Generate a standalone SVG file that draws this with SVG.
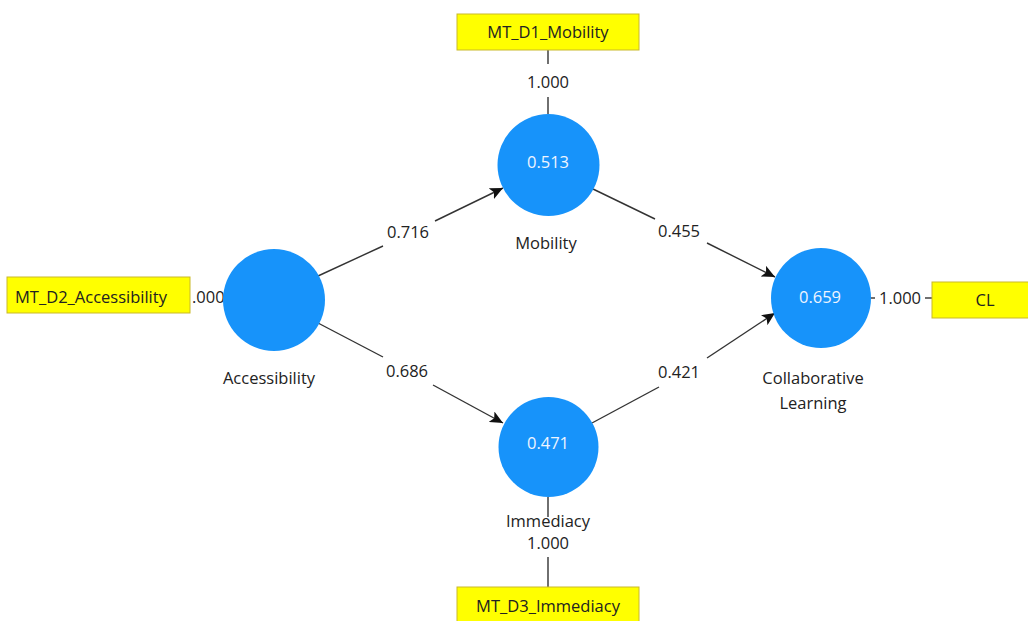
<svg xmlns="http://www.w3.org/2000/svg" width="1028" height="621" viewBox="0 0 1028 621">
<style>
text{font-family:"Open Sans","Noto Sans","Liberation Sans",sans-serif;font-size:16.5px;fill:#222}
.lbl{text-anchor:middle}
.val{text-anchor:middle;fill:#eef5ff}
.lv{fill:#1793fa}
.box{fill:#ffff00;stroke:#c9b92a;stroke-width:1}
.ln{stroke:#333;stroke-width:1.4;fill:none}
.arr{stroke:#333;stroke-width:1.4;fill:none;marker-end:url(#ah)}
</style>
<defs>
<marker id="ah" markerUnits="userSpaceOnUse" markerWidth="14" markerHeight="12" refX="13" refY="6" orient="auto">
<path d="M0,0 L13,6 L0,12 L3,6 z" fill="#111"/>
</marker>
</defs>
<rect width="1028" height="621" fill="#fff"/>
<g id="connectors">
<line class="ln" x1="548" y1="50" x2="548" y2="64"/>
<line class="ln" x1="548" y1="97" x2="548" y2="114"/>
<line class="ln" x1="548" y1="497" x2="548" y2="517"/>
<line class="ln" x1="548" y1="557" x2="548" y2="587"/>
<line class="ln" x1="871" y1="298" x2="875" y2="298"/>
<line class="ln" x1="925" y1="298" x2="932" y2="298"/>
<line class="ln" x1="318" y1="276" x2="383" y2="246"/>
<line class="arr" x1="435" y1="221" x2="503" y2="188"/>
<line class="ln" x1="318" y1="323" x2="383" y2="357"/>
<line class="arr" x1="433" y1="385" x2="503" y2="423"/>
<line class="ln" x1="593" y1="189" x2="655" y2="219"/>
<line class="arr" x1="707" y1="243" x2="775" y2="277"/>
<line class="ln" x1="592" y1="423" x2="659" y2="387"/>
<line class="arr" x1="707" y1="358" x2="775" y2="313"/>
<text class="lbl" x="548" y="88">1.000</text>
<text class="lbl" x="548" y="549">1.000</text>
<text class="lbl" x="900" y="304">1.000</text>
<text x="192" y="303">.000</text>
<text class="lbl" x="408" y="238">0.716</text>
<text class="lbl" x="407" y="377">0.686</text>
<text class="lbl" x="679" y="237">0.455</text>
<text class="lbl" x="679" y="378">0.421</text>
</g>
<g id="MT_D1_Mobility">
<rect class="box" x="457" y="14" width="182" height="36"/>
<text class="lbl" x="548" y="38">MT_D1_Mobility</text>
</g>
<g id="MT_D2_Accessibility">
<rect class="box" x="7" y="277" width="183" height="36"/>
<text x="15" y="303">MT_D2_Accessibility</text>
</g>
<g id="MT_D3_Immediacy">
<rect class="box" x="457" y="587" width="182" height="40"/>
<text class="lbl" x="548" y="612">MT_D3_Immediacy</text>
</g>
<g id="CL">
<rect class="box" x="932" y="282" width="100" height="36"/>
<text class="lbl" x="985" y="306">CL</text>
</g>
<g id="Accessibility">
<circle class="lv" cx="274" cy="300" r="51"/>
<text class="lbl" x="269" y="384">Accessibility</text>
</g>
<g id="Mobility">
<circle class="lv" cx="548.5" cy="165" r="51"/>
<text class="val" x="548" y="168">0.513</text>
<text class="lbl" x="546" y="249">Mobility</text>
</g>
<g id="Immediacy">
<circle class="lv" cx="548.5" cy="447" r="50"/>
<text class="val" x="548" y="449">0.471</text>
<text class="lbl" x="548" y="527">Immediacy</text>
</g>
<g id="Collaborative_Learning">
<circle class="lv" cx="821" cy="298" r="50"/>
<text class="val" x="820" y="303">0.659</text>
<text class="lbl" x="813" y="384">Collaborative</text>
<text class="lbl" x="813" y="409">Learning</text>
</g>
</svg>
